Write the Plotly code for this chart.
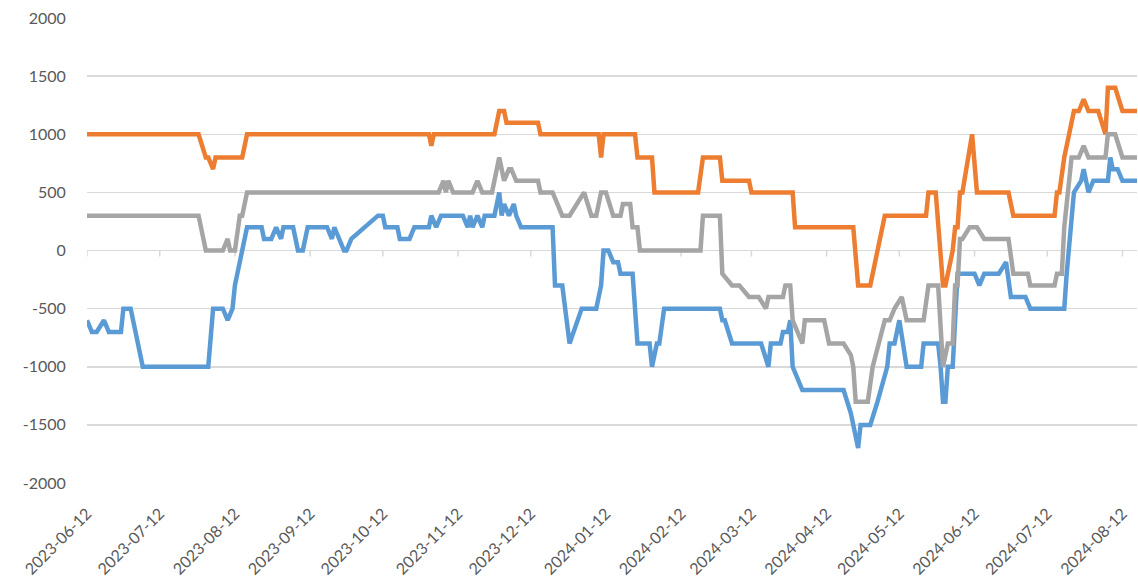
import plotly.graph_objects as go

# ---------------- data ----------------
blue_dates = [
    "2023-06-12","2023-06-14","2023-06-16","2023-06-19","2023-06-21","2023-06-26","2023-06-27","2023-06-30",
    "2023-07-05","2023-08-01","2023-08-03","2023-08-07","2023-08-09","2023-08-11","2023-08-12","2023-08-15",
    "2023-08-17","2023-08-23","2023-08-24","2023-08-27","2023-08-29","2023-08-31","2023-09-01","2023-09-05",
    "2023-09-07","2023-09-09","2023-09-11","2023-09-19","2023-09-21","2023-09-22","2023-09-26","2023-09-27",
    "2023-09-29","2023-10-10","2023-10-12","2023-10-13","2023-10-18","2023-10-19","2023-10-23","2023-10-25",
    "2023-10-31","2023-11-01","2023-11-03","2023-11-05","2023-11-14","2023-11-16","2023-11-17","2023-11-18",
    "2023-11-20","2023-11-22","2023-11-23","2023-11-27","2023-11-29","2023-11-30","2023-12-01","2023-12-03",
    "2023-12-05","2023-12-06","2023-12-08","2023-12-21","2023-12-22","2023-12-25","2023-12-28","2024-01-02",
    "2024-01-08","2024-01-10","2024-01-11","2024-01-13","2024-01-15","2024-01-17","2024-01-18","2024-01-23",
    "2024-01-25","2024-01-30","2024-01-31","2024-02-02","2024-02-03","2024-02-05","2024-02-28","2024-02-29",
    "2024-03-01","2024-03-04","2024-03-16","2024-03-19","2024-03-20","2024-03-24","2024-03-25","2024-03-27",
    "2024-03-28","2024-03-29","2024-04-02","2024-04-19","2024-04-22","2024-04-23","2024-04-25","2024-04-26",
    "2024-04-30","2024-05-03","2024-05-07","2024-05-08","2024-05-10","2024-05-12","2024-05-15","2024-05-21",
    "2024-05-22","2024-05-28","2024-05-29","2024-05-30","2024-05-31","2024-06-01","2024-06-03","2024-06-05",
    "2024-06-12","2024-06-14","2024-06-16","2024-06-22","2024-06-25","2024-06-27","2024-07-03","2024-07-05",
    "2024-07-19","2024-07-20","2024-07-22","2024-07-23","2024-07-26","2024-07-27","2024-07-29","2024-07-31",
    "2024-08-06","2024-08-07","2024-08-08","2024-08-10","2024-08-12","2024-08-18",
]
blue_values = [
    -600,-700,-700,-600,-700,-700,-500,-500,
    -1000,-1000,-500,-500,-600,-500,-300,0,
    200,200,100,100,200,100,200,200,
    0,0,200,200,100,200,0,0,
    100,300,300,200,200,100,100,200,
    200,300,200,300,300,200,300,200,
    300,200,300,300,500,300,400,300,
    400,300,200,200,-300,-300,-800,-500,
    -500,-300,0,0,-100,-100,-200,-200,
    -800,-800,-1000,-800,-800,-500,-500,-600,
    -600,-800,-800,-1000,-800,-800,-700,-700,
    -600,-1000,-1200,-1200,-1400,-1500,-1700,-1500,
    -1500,-1300,-1000,-800,-800,-600,-1000,-1000,
    -800,-800,-1000,-1300,-1300,-1000,-1000,-200,
    -200,-300,-200,-200,-100,-400,-400,-500,
    -500,-200,300,500,600,700,500,600,
    600,800,700,700,600,600,
]

orange_dates = [
    "2023-06-12","2023-07-28","2023-07-31","2023-08-01","2023-08-03","2023-08-04","2023-08-15","2023-08-17",
    "2023-10-31","2023-11-01","2023-11-02","2023-11-27","2023-11-29","2023-12-01","2023-12-02","2023-12-15",
    "2023-12-16","2024-01-09","2024-01-10","2024-01-11","2024-01-24","2024-01-25","2024-01-31","2024-02-01",
    "2024-02-19","2024-02-21","2024-02-28","2024-02-29","2024-03-11","2024-03-12","2024-03-29","2024-03-30",
    "2024-04-23","2024-04-25","2024-04-30","2024-05-06","2024-05-23","2024-05-24","2024-05-27","2024-05-30",
    "2024-05-31","2024-06-03","2024-06-04","2024-06-05","2024-06-06","2024-06-07","2024-06-11","2024-06-13",
    "2024-06-26","2024-06-28","2024-07-15","2024-07-16","2024-07-17","2024-07-19","2024-07-21","2024-07-23",
    "2024-07-25","2024-07-27","2024-07-29","2024-08-02","2024-08-05","2024-08-06","2024-08-09","2024-08-12",
    "2024-08-18",
]
orange_values = [
    1000,1000,800,800,700,800,800,1000,
    1000,900,1000,1000,1200,1200,1100,1100,
    1000,1000,800,1000,1000,800,800,500,
    500,800,800,600,600,500,500,200,
    200,-300,-300,300,300,500,500,-300,
    -300,0,200,200,500,500,1000,500,
    500,300,300,500,500,800,1000,1200,
    1200,1300,1200,1200,1000,1400,1400,1200,
    1200,
]

gray_dates = [
    "2023-06-12","2023-07-28","2023-07-31","2023-08-07","2023-08-09","2023-08-10","2023-08-12","2023-08-14",
    "2023-08-15","2023-08-17","2023-11-04","2023-11-06","2023-11-07","2023-11-08","2023-11-10","2023-11-18",
    "2023-11-20","2023-11-22","2023-11-26","2023-11-29","2023-12-01","2023-12-03","2023-12-04","2023-12-06",
    "2023-12-15","2023-12-16","2023-12-21","2023-12-25","2023-12-28","2024-01-03","2024-01-06","2024-01-08",
    "2024-01-10","2024-01-12","2024-01-15","2024-01-18","2024-01-19","2024-01-22","2024-01-23","2024-01-25",
    "2024-01-26","2024-02-20","2024-02-21","2024-02-28","2024-02-29","2024-03-04","2024-03-07","2024-03-11",
    "2024-03-15","2024-03-18","2024-03-19","2024-03-25","2024-03-26","2024-03-28","2024-03-29","2024-04-02",
    "2024-04-03","2024-04-11","2024-04-13","2024-04-19","2024-04-22","2024-04-23","2024-04-24","2024-04-29",
    "2024-05-01","2024-05-06","2024-05-08","2024-05-10","2024-05-13","2024-05-15","2024-05-22","2024-05-24",
    "2024-05-28","2024-05-30","2024-06-01","2024-06-03","2024-06-04","2024-06-05","2024-06-06","2024-06-07",
    "2024-06-10","2024-06-13","2024-06-16","2024-06-26","2024-06-28","2024-07-04","2024-07-05","2024-07-15",
    "2024-07-16","2024-07-18","2024-07-19","2024-07-22","2024-07-25","2024-07-27","2024-07-29","2024-08-05",
    "2024-08-06","2024-08-09","2024-08-12","2024-08-18",
]
gray_values = [
    300,300,0,0,100,0,0,300,
    300,500,500,600,500,600,500,500,
    600,500,500,800,600,700,700,600,
    600,500,500,300,300,500,300,300,
    500,500,300,300,400,400,200,200,
    0,0,300,300,-200,-300,-300,-400,
    -400,-500,-400,-400,-300,-300,-600,-800,
    -600,-600,-800,-800,-900,-1000,-1300,-1300,
    -1000,-600,-600,-500,-400,-600,-600,-300,
    -300,-1000,-800,-800,-300,-300,100,100,
    200,200,100,100,-200,-200,-300,-300,
    -200,-200,200,800,800,900,800,800,
    1000,1000,800,800,
]

x_tick_dates = [
    "2023-06-12","2023-07-12","2023-08-12","2023-09-12","2023-10-12","2023-11-12","2023-12-12",
    "2024-01-12","2024-02-12","2024-03-12","2024-04-12","2024-05-12","2024-06-12","2024-07-12","2024-08-12",
]
y_tick_values = [-2000, -1500, -1000, -500, 0, 500, 1000, 1500, 2000]
y_tick_labels = ["-2000", "-1500", "-1000", "-500", "0", "500", "1000", "1500", "2000"]

# ---------------- figure ----------------
FONT = "Lato, 'Open Sans', sans-serif"
GRID = "#d9d9d9"
TEXT = "#595959"

fig = go.Figure()
for d, v, c in [
    (blue_dates, blue_values, "#5B9BD5"),
    (orange_dates, orange_values, "#ED7D31"),
    (gray_dates, gray_values, "#A5A5A5"),
]:
    fig.add_trace(go.Scatter(
        x=d, y=v, mode="lines",
        line=dict(color=c, width=4.5),
        showlegend=False, hoverinfo="skip",
    ))

# small tick marks hanging below the zero line at each labelled date
shapes = []
for t in x_tick_dates:
    shapes.append(dict(
        type="line", xref="x", yref="y", ysizemode="pixel", yanchor=0,
        x0=t, x1=t, y0=0, y1=-6,
        line=dict(color=GRID, width=1.5), layer="below",
    ))

fig.update_layout(
    width=1138, height=587,
    margin=dict(l=87, r=1, t=18, b=104),
    paper_bgcolor="white", plot_bgcolor="white",
    font=dict(family=FONT, size=16, color=TEXT),
    shapes=shapes,
    xaxis=dict(
        type="date",
        range=["2023-06-12", "2024-08-18"],
        tickmode="array", tickvals=x_tick_dates, ticktext=x_tick_dates,
        tickangle=-45,
        showgrid=False, zeroline=False, showline=False,
        ticks="outside", ticklen=14, tickcolor="rgba(0,0,0,0)",
        tickfont=dict(family=FONT, size=16, color=TEXT),
    ),
    yaxis=dict(
        range=[-2000, 2000],
        tickmode="array", tickvals=y_tick_values, ticktext=y_tick_labels,
        showgrid=True, gridcolor=GRID, gridwidth=1.5,
        zeroline=True, zerolinecolor=GRID, zerolinewidth=1.5,
        showline=False,
        ticks="outside", ticklen=17, tickcolor="rgba(0,0,0,0)",
        tickfont=dict(family=FONT, size=16, color=TEXT),
    ),
)

fig.write_html(
    "out.html",
    config={"displayModeBar": False, "staticPlot": True},
    post_script="document.body.style.margin='0';",
)
